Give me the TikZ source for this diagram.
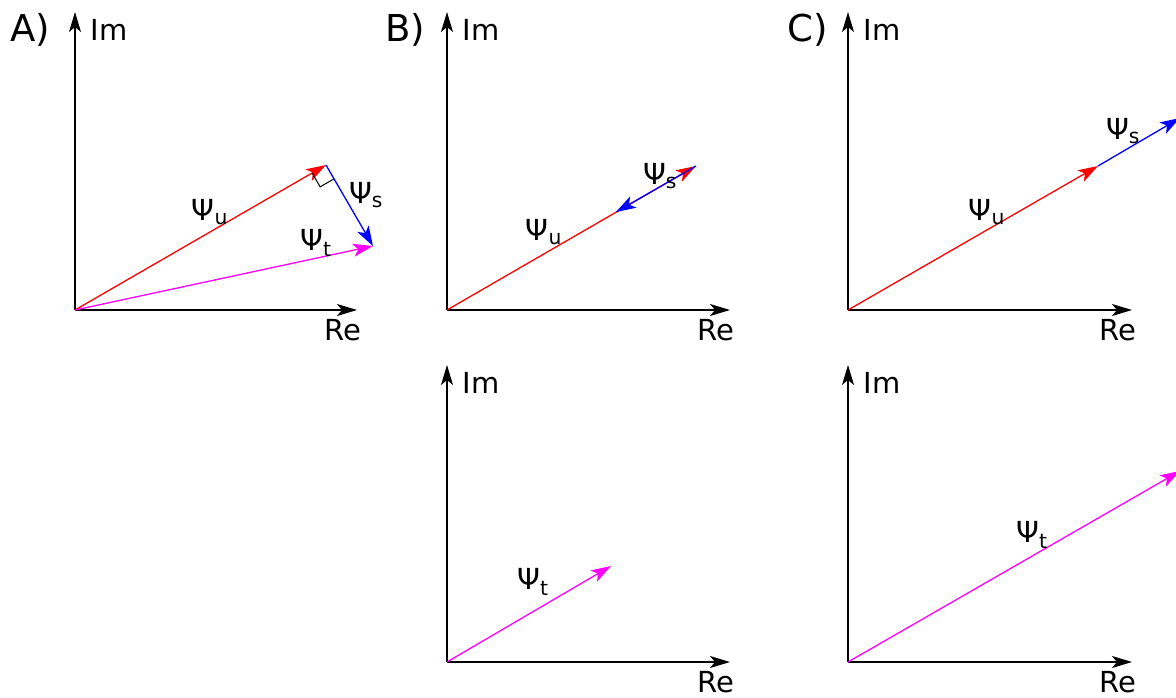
\documentclass[tikz,border=0pt]{standalone}
\usepackage{fontspec}
\setmainfont{DejaVu Sans}
\usetikzlibrary{arrows.meta,calc}
\definecolor{vecred}{HTML}{FF0000}
\definecolor{vecblue}{HTML}{0000FF}
\definecolor{vecmag}{HTML}{FF00FF}

\begin{document}
\begin{tikzpicture}[
  x=1pt, y=-1pt,
  axis/.style={-{Stealth[length=20pt, width=12pt, inset=5pt]}, line width=1.4pt, draw=black},
  vec/.style={-{Stealth[length=20pt, width=13pt, inset=5pt]}, line width=1.3pt},
  lbl/.style={font=\fontsize{29}{34}\selectfont, inner sep=0pt},
  psi/.style={font=\fontsize{29}{34}\selectfont, inner sep=0pt},
  panel/.style={font=\fontsize{37}{44}\selectfont, inner sep=0pt}
]
  \useasboundingbox (0,0) rectangle (1176,698);

  % axes of the five diagrams
  \foreach \nm/\ox/\oy/\top/\right in {a/75/310/12/357, b/447/310/12/730, c/848/310/12/1132, bb/447/662/365/730, cb/848/662/365/1132} {
    \coordinate (o\nm) at (\ox,\oy);
    \coordinate (im\nm) at (\ox,\top);
    \coordinate (re\nm) at (\right,\oy);
    \draw[axis] (o\nm) -- (im\nm);
    \draw[axis] (o\nm) -- (re\nm);
    \node[lbl] (imlbl\nm) at ($(im\nm)+(34,18)$) {Im};
    \node[lbl] (relbl\nm) at ($(re\nm)+(-14,20)$) {Re};
  }

  \node[panel] (pa) at (30,30) {A)};
  \node[panel] (pb) at (405,30) {B)};
  \node[panel] (pc) at (808,30) {C)};

  % A) sum of the two fields
  \coordinate (ua) at (326,165);
  \coordinate (ta) at (373,246);
  \draw[vec, vecred] (oa) -- (ua);
  \draw[vec, vecblue] (ua) -- (ta);
  \draw[vec, vecmag] (oa) -- (ta);
  \draw[line width=1pt] ($(ua)!16pt!(oa)$) -- ($($(ua)!16pt!(oa)$)!16pt!90:(oa)$) -- ($(ua)!16pt!(ta)$);
  \node[psi] (psiua) at (210,212) {Ψ\textsubscript{u}};
  \node[psi] (psisa) at (366,195) {Ψ\textsubscript{s}};
  \node[psi] (psita) at (316,243) {Ψ\textsubscript{t}};

  % B) opposite directions
  \coordinate (ub) at (696,166);
  \coordinate (sb) at (616,212);
  \coordinate (tb) at (611,566);
  \draw[vec, vecred] (ob) -- (ub);
  \draw[vec, vecblue] (ub) -- (sb);
  \draw[vec, vecmag] (obb) -- (tb);
  \node[psi] (psiub) at (544,232) {Ψ\textsubscript{u}};
  \node[psi] (psisb) at (660,176) {Ψ\textsubscript{s}};
  \node[psi] (psitb) at (533,582) {Ψ\textsubscript{t}};

  % C) same direction
  \coordinate (uc) at (1098,166);
  \coordinate (sc) at (1180,118);
  \coordinate (tc) at (1180,471);
  \draw[vec, vecred] (oc) -- (uc);
  \draw[vec, vecblue] (uc) -- (sc);
  \draw[vec, vecmag] (ocb) -- (tc);
  \node[psi] (psiuc) at (987,212) {Ψ\textsubscript{u}};
  \node[psi] (psisc) at (1123,131) {Ψ\textsubscript{s}};
  \node[psi] (psitc) at (1032,535) {Ψ\textsubscript{t}};
\end{tikzpicture}
\end{document}
